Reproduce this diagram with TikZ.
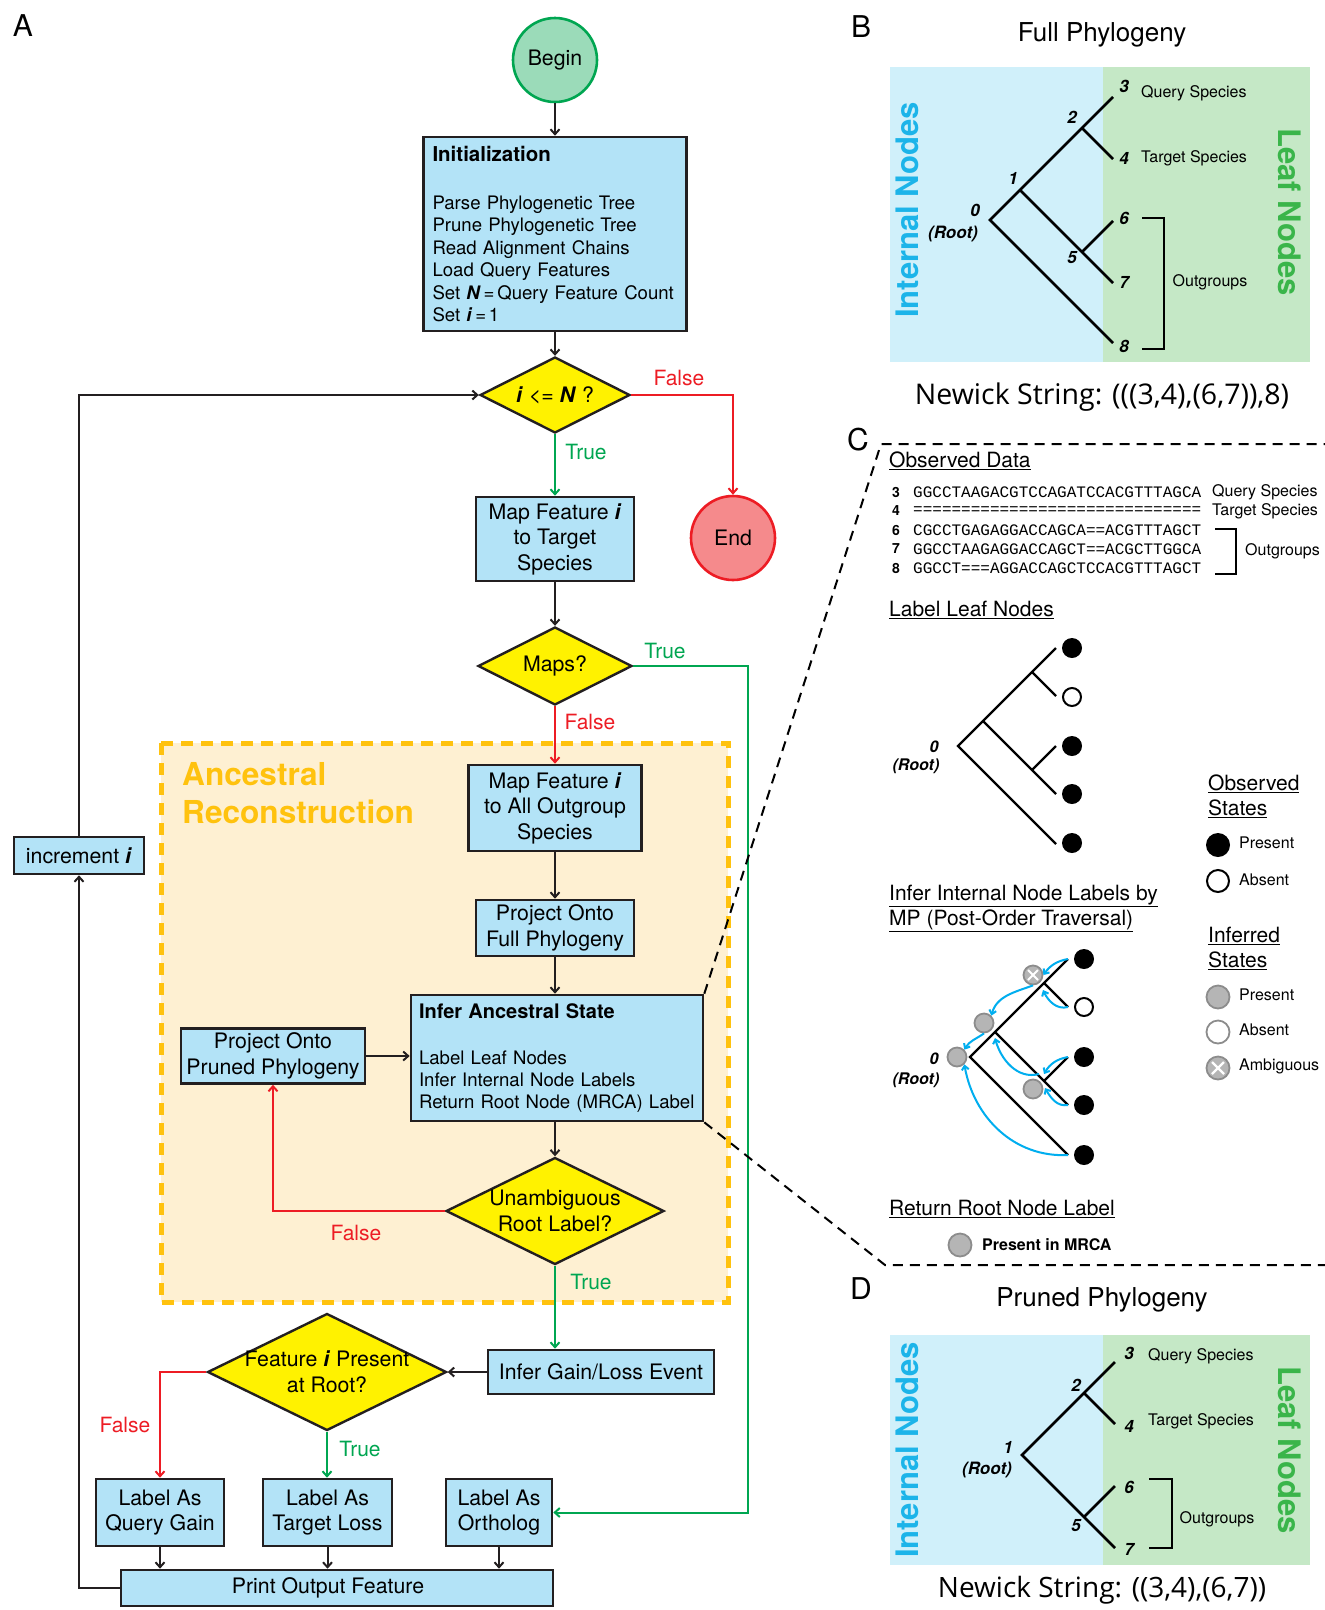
\documentclass[tikz,border=0pt]{standalone}
\usepackage{fontspec}
\setmainfont{TeX Gyre Heros}
\setmonofont{Liberation Mono}
\newfontfamily\newickfont{Open Sans}
\usetikzlibrary{shapes.geometric,arrows.meta,calc}
\newcommand{\fsz}[2]{\fontsize{#1}{#2}\selectfont}
\newcommand{\bi}[1]{\textbf{\textit{#1}}}
\definecolor{boxfill}{HTML}{B3E3F7}
\definecolor{boxline}{HTML}{231F20}
\definecolor{dyel}{HTML}{FFF200}
\definecolor{begfill}{HTML}{9BDBB9}
\definecolor{begline}{HTML}{00A651}
\definecolor{endfill}{HTML}{F58A8C}
\definecolor{endline}{HTML}{ED1C24}
\definecolor{fred}{HTML}{ED1C24}
\definecolor{fgreen}{HTML}{00A651}
\definecolor{regfill}{HTML}{FEF0D2}
\definecolor{regline}{HTML}{FFC20E}
\definecolor{pblue}{HTML}{D0F0FA}
\definecolor{pgreen}{HTML}{C5E8C6}
\definecolor{intc}{HTML}{1CB4E9}
\definecolor{leafc}{HTML}{3AB54A}
\definecolor{cyc}{HTML}{00AEEF}
\definecolor{gfill}{HTML}{B5B5B5}
\definecolor{gline}{HTML}{8C8C8C}
\begin{document}
\begin{tikzpicture}[x=1pt,y=-1pt,
  box/.style={draw=boxline, fill=boxfill, line width=2.6pt, inner sep=0pt, align=center, font=\fsz{21.3}{25.5}},
  dia/.style={diamond, draw=boxline, fill=dyel, line width=2.4pt, inner sep=0pt},
  txt/.style={inner sep=0pt, align=center, font=\fsz{21.3}{25.5}},
  arr/.style={draw=boxline, line width=2pt, -{Straight Barb[length=5pt,width=9pt]}},
  rarr/.style={arr, draw=fred},
  garr/.style={arr, draw=fgreen},
  flab/.style={inner sep=0pt, font=\fsz{21}{25}, text=fred},
  tlab/.style={inner sep=0pt, font=\fsz{21}{25}, text=fgreen},
  panel/.style={inner sep=0pt, font=\fsz{30}{32}},
  num/.style={inner sep=0pt, font=\fsz{17}{20}\bfseries\itshape},
  numc/.style={inner sep=0pt, font=\fsz{16}{19}\bfseries\itshape},
  spl/.style={inner sep=0pt, font=\fsz{16}{19}},
  head/.style={inner sep=0pt, font=\fsz{21}{25}, align=left},
  big/.style={inner sep=0pt, font=\fsz{31}{31}\bfseries},
  on/.style={circle, fill=black, minimum size=20, inner sep=0pt},
  off/.style={circle, draw=black, fill=white, line width=2pt, minimum size=18, inner sep=0pt},
  gon/.style={circle, fill=gfill, draw=gline, line width=1.8pt, minimum size=19, inner sep=0pt},
  goff/.style={circle, fill=white, draw=gline, line width=1.8pt, minimum size=19, inner sep=0pt},
  cy/.style={draw=cyc, line width=2pt, -{Straight Barb[length=4pt,width=7pt]}},
  callout/.style={draw=black, line width=2pt, dash pattern=on 10pt off 7pt}
]
\useasboundingbox (0,0) rectangle (1325,1610);
\fill[white] (0,0) rectangle (1325,1610);

% ---------- Panel letters
\node[panel] (pA) at (23,26) {A};
\node[panel] (pB) at (861,27) {B};
\node[panel] (pC) at (858,440) {C};
\node[panel] (pD) at (861,1289) {D};

% ---------- Ancestral region
\draw[fill=regfill, draw=regline, line width=5pt, dash pattern=on 12pt off 8pt] (161,743) rectangle (728,1302);
\node[anchor=west, align=left, inner sep=0pt, font=\fsz{31.6}{38}\bfseries, text=regline] (anc) at (182,793) {Ancestral\\Reconstruction};

% ---------- Flowchart nodes
\node[circle, draw=begline, fill=begfill, line width=2.6pt, minimum size=84, inner sep=0pt, font=\fsz{21.3}{25}] (begin) at (555,60) {\raisebox{-2pt}{Begin}};
\node[box, minimum width=263, minimum height=194, text width=245, align=left, font=\fsz{18.6}{22.5}] (init) at (555,234)
  {{\fsz{20.5}{22.5}\bfseries Initialization}\\[25.5pt]
   Parse Phylogenetic Tree\\ Prune Phylogenetic Tree\\ Read Alignment Chains\\ Load Query Features\\
   \mbox{Set \bi{N}\hspace{0.15em}=\hspace{0.15em}Query Feature Count}\\ Set \bi{i}\hspace{0.15em}=\hspace{0.15em}1};
\node[dia, minimum width=150, minimum height=76] (d1) at (555,395) {};
\node[txt] (d1t) at (d1) {\bi{i} <= \bi{N} ?};
\node[circle, draw=endline, fill=endfill, line width=2.6pt, minimum size=84, inner sep=0pt, font=\fsz{21.3}{25}] (stop) at (733,538) {End};
\node[box, minimum width=158, minimum height=84] (mt) at (555,539) {Map Feature \bi{i}\\to Target\\Species};
\node[dia, minimum width=154, minimum height=78] (d2) at (555,666) {};
\node[txt] (d2t) at (d2) {Maps?};
\coordinate (mapsTR) at (748,666);
\node[box, minimum width=173, minimum height=86] (mo) at (555,808) {Map Feature \bi{i}\\to All Outgroup\\Species};
\node[box, minimum width=158, minimum height=56] (pf) at (555,928) {Project Onto\\Full Phylogeny};
\node[box, minimum width=292, minimum height=126, text width=276, align=left, font=\fsz{18.6}{22}] (inf) at (557,1058)
  {{\fsz{20}{22}\bfseries Infer Ancestral State}\\[24pt]
   Label Leaf Nodes\\ Infer Internal Node Labels\\ Return Root Node (MRCA) Label};
\node[box, minimum width=184, minimum height=55] (pp) at (273,1056) {Project Onto\\Pruned Phylogeny};
\node[dia, minimum width=218, minimum height=107] (d3) at (555,1211) {};
\node[txt] (d3t) at (d3) {Unambiguous\\Root Label?};
\node[box, minimum width=226, minimum height=44] (gl) at (601,1372) {Infer Gain/Loss Event};
\node[dia, minimum width=239, minimum height=117] (d4) at (327,1372) {};
\node[txt] (d4t) at (d4) {Feature \bi{i} Present\\at Root?};
\node[box, minimum width=128, minimum height=67] (qg) at (160,1512.5) {Label As\\Query Gain};
\node[box, minimum width=129, minimum height=67] (tl) at (327.5,1512.5) {Label As\\Target Loss};
\node[box, minimum width=106, minimum height=67] (orth) at (499,1512.5) {Label As\\Ortholog};
\node[box, minimum width=432, minimum height=36] (pr) at (337,1588) {Print Output Feature\hspace*{18pt}};
\node[box, minimum width=130, minimum height=37] (inc) at (79,855.5) {increment \bi{i}};

% ---------- Flowchart connectors
\draw[arr] (begin) -- (init);
\draw[arr] (init) -- (d1);
\draw[rarr] (d1.east) -| (stop.north);
\draw[garr] (d1) -- (mt);
\draw[arr] (mt) -- (d2);
\draw[garr] (d2.east) -- (mapsTR) |- (orth.east);
\draw[rarr] (d2) -- (mo);
\draw[arr] (mo) -- (pf);
\draw[arr] (pf.south) -- (pf.south |- inf.north);
\draw[arr] (pp.east) -- (pp.east -| inf.west);
\draw[arr] (d3.north |- inf.south) -- (d3.north);
\draw[rarr] (d3.west) -| (pp.south);
\draw[garr] (d3.south) -- (d3.south |- gl.north);
\draw[arr] (gl.west) -- (d4.east);
\draw[rarr] (d4.west) -| (qg.north);
\draw[garr] (d4.south) -- (d4.south |- tl.north);
\draw[arr] (qg.south) -- (qg.south |- pr.north);
\draw[arr] (tl.south) -- (tl.south |- pr.north);
\draw[arr] (orth.south) -- (orth.south |- pr.north);
\draw[arr] (pr.west) -| (inc.south);
\draw[arr] (inc.north) |- (d1.west);

% ---------- Connector labels
\node[flab] (lf1) at (679,378) {False};
\node[tlab] (lt1) at (586,452) {True};
\node[tlab] (lt2) at (665,651) {True};
\node[flab] (lf2) at (590,722) {False};
\node[flab] (lf3) at (356,1233) {False};
\node[tlab] (lt3) at (591,1282) {True};
\node[flab] (lf4) at (125,1425) {False};
\node[tlab] (lt4) at (360,1449) {True};

% ---------- Callout
\coordinate (ctl) at (881,444);
\coordinate (ctr) at (1325,444);
\coordinate (cbl) at (885,1265);
\coordinate (cbr) at (1325,1265);
\draw[callout] (inf.north east) -- (ctl) -- (ctr);
\draw[callout] (inf.south east) -- (cbl) -- (cbr);

% ---------- Panel B
\fill[pblue] (890,67) rectangle (1103,362);
\fill[pgreen] (1103,67) rectangle (1310,362);
\node[inner sep=0pt, font=\fsz{26}{30}] (titB) at (1102,35) {Full Phylogeny};
\node[big, rotate=90, text=intc] (intB) at (907,210) {Internal Nodes};
\node[big, rotate=-90, text=leafc] (leafB) at (1290,212) {Leaf Nodes};
\coordinate (b0) at (990,220);
\coordinate (b1) at (1020,190);
\coordinate (b2) at (1082,128);
\coordinate (b3) at (1113,97);
\coordinate (b4) at (1113,159);
\coordinate (b5) at (1082,252);
\coordinate (b6) at (1113,221);
\coordinate (b7) at (1113,283);
\coordinate (b8) at (1113,343);
\draw[line width=2.6pt] (b3) -- (b0) -- (b8);
\draw[line width=2.6pt] (b1) -- (b7);
\draw[line width=2.6pt] (b2) -- (b4);
\draw[line width=2.6pt] (b5) -- (b6);
\node[num] (bn3) at (1124,86) {3};
\node[num] (bn4) at (1124,158) {4};
\node[num] (bn6) at (1124,218) {6};
\node[num] (bn7) at (1124,282) {7};
\node[num] (bn8) at (1124,346) {8};
\node[num] (bn2) at (1072,117) {2};
\node[num] (bn1) at (1013,178) {1};
\node[num] (bn0) at (975,210) {0};
\node[num] (bnr) at (953,234) {(Root)};
\node[num] (bn5) at (1072,258) {5};
\node[spl, anchor=west] (bq) at (1141,93) {Query Species};
\node[spl, anchor=west] (bt) at (1141,158) {Target Species};
\draw[line width=2.4pt] (1142,218) -- (1164,218) -- (1164,349) -- (1142,349);
\node[spl] (bo) at (1210,282) {Outgroups};
\node[inner sep=0pt, font=\newickfont\fsz{28.5}{32}] (nwB) at (1102,397) {Newick String: (((3,4),(6,7)),8)};

% ---------- Panel C
\node[head, anchor=west] (hObs) at (889,461) {\underline{Observed Data}};
\foreach \n/\s/\y in {3/GGCCTAAGACGTCCAGATCCACGTTTAGCA/492,
                      4/==============================/511,
                      6/CGCCTGAGAGGACCAGCA==ACGTTTAGCT/530,
                      7/GGCCTAAGAGGACCAGCT==ACGCTTGGCA/549,
                      8/GGCCT===AGGACCAGCTCCACGTTTAGCT/568}{
  \node[inner sep=0pt, font=\fsz{14}{16}\bfseries] (sn\n) at (896,\y) {\n};
  \node[inner sep=0pt, anchor=west, font=\ttfamily\fsz{16}{18}] (sq\n) at (913,\y) {\s};
}
\node[spl, anchor=west] (cq) at (1212,492) {Query Species};
\node[spl, anchor=west] (ct) at (1212,511) {Target Species};
\draw[line width=2pt] (1215,529) -- (1236,529) -- (1236,574) -- (1215,574);
\node[spl, anchor=west] (co) at (1245,551) {Outgroups};

\node[head, anchor=west] (hLeaf) at (889,610) {\underline{Label Leaf Nodes}};
\coordinate (c0) at (958,746);
\coordinate (c1) at (983,721);
\coordinate (c2) at (1032,672);
\coordinate (c3) at (1056,648);
\coordinate (c4) at (1056,696);
\coordinate (c5) at (1032,770);
\coordinate (c6) at (1056,746);
\coordinate (c7) at (1056,794);
\coordinate (c8) at (1056,844);
\draw[line width=2.2pt] (c3) -- (c0) -- (c8);
\draw[line width=2.2pt] (c1) -- (c7);
\draw[line width=2.2pt] (c2) -- (c4);
\draw[line width=2.2pt] (c5) -- (c6);
\node[on] (cl3) at (1072,648) {};
\node[off] (cl4) at (1072,697) {};
\node[on] (cl6) at (1072,746) {};
\node[on] (cl7) at (1072,794) {};
\node[on] (cl8) at (1072,843) {};
\node[numc] (cr0) at (934,747) {0};
\node[numc] (crr) at (916,766) {(Root)};

\node[head, anchor=west] (hObsSt) at (1208,796) {\underline{Observed}\\\underline{States}};
\node[on, minimum size=24] (lgOn) at (1218,845) {};
\node[spl, anchor=west] (lgOnT) at (1239,843) {Present};
\node[off, minimum size=22] (lgOff) at (1218,881) {};
\node[spl, anchor=west] (lgOffT) at (1239,880) {Absent};

\node[head, anchor=west] (hInf) at (889,908.5) {\underline{Infer Internal Node Labels by}\\\underline{MP (Post-Order Traversal)}};
\coordinate (e0) at (970,1057);
\coordinate (e1) at (995,1032);
\coordinate (e2) at (1044,983);
\coordinate (e3) at (1068,959);
\coordinate (e4) at (1068,1007);
\coordinate (e5) at (1044,1081);
\coordinate (e6) at (1068,1057);
\coordinate (e7) at (1068,1105);
\coordinate (e8) at (1068,1155);
\draw[line width=2.2pt] (e3) -- (e0) -- (e8);
\draw[line width=2.2pt] (e1) -- (e7);
\draw[line width=2.2pt] (e2) -- (e4);
\draw[line width=2.2pt] (e5) -- (e6);
\node[on] (el3) at (1084,959) {};
\node[off] (el4) at (1084,1007) {};
\node[on] (el6) at (1084,1057) {};
\node[on] (el7) at (1084,1105) {};
\node[on] (el8) at (1084,1155) {};
\node[gon] (g2) at (1033,975) {};
\draw[white, line width=2pt] ($(g2)+(-5,-5)$) -- ($(g2)+(5,5)$);
\draw[white, line width=2pt] ($(g2)+(-5,5)$) -- ($(g2)+(5,-5)$);
\node[gon] (g1) at (984,1023) {};
\node[gon] (g0) at (957,1057) {};
\node[gon] (g5) at (1033,1089) {};
\node[numc] (er0) at (934,1059) {0};
\node[numc] (err) at (916,1080) {(Root)};
\draw[cy] (e3) to[out=190,in=55] (g2.east);
\draw[cy] (e4) to[out=195,in=-65] ($(e2)+(-1,7)$);
\draw[cy] (g2.south) to[out=200,in=75] (g1.north east);
\draw[cy] ($(e5)+(-5,-7)$) to[out=195,in=-75] ($(e1)+(0,6)$);
\draw[cy] (g1.south) to[out=215,in=60] (g0.north east);
\draw[cy] (e6) to[out=190,in=60] ($(e5)+(0,-7)$);
\draw[cy] (e7) to[out=190,in=-60] ($(e5)+(1,7)$);
\draw[cy] (e8) to[out=183,in=-80] (g0.south east);

\node[head, anchor=west] (hInfSt) at (1208,948.5) {\underline{Inferred}\\\underline{States}};
\node[gon, minimum size=23] (lgG) at (1218,997) {};
\node[spl, anchor=west] (lgGT) at (1239,995) {Present};
\node[goff, minimum size=23] (lgW) at (1218,1032) {};
\node[spl, anchor=west] (lgWT) at (1239,1030) {Absent};
\node[gon, minimum size=23] (lgA) at (1218,1068) {};
\draw[white, line width=2.2pt] ($(lgA)+(-6,-6)$) -- ($(lgA)+(6,6)$);
\draw[white, line width=2.2pt] ($(lgA)+(-6,6)$) -- ($(lgA)+(6,-6)$);
\node[spl, anchor=west] (lgAT) at (1239,1066) {Ambiguous};

\node[head, anchor=west] (hRet) at (889,1209) {\underline{Return Root Node Label}};
\node[gon, minimum size=23] (mrca) at (960,1245) {};
\node[spl, anchor=west, font=\fsz{16}{19}\bfseries] (mrcaT) at (982,1245) {Present in MRCA};

% ---------- Panel D
\fill[pblue] (890,1335) rectangle (1103,1565);
\fill[pgreen] (1103,1335) rectangle (1310,1565);
\node[inner sep=0pt, font=\fsz{26}{30}] (titD) at (1102,1300) {Pruned Phylogeny};
\node[big, rotate=90, text=intc] (intD) at (907,1450) {Internal Nodes};
\node[big, rotate=-90, text=leafc] (leafD) at (1290,1450) {Leaf Nodes};
\coordinate (d1c) at (1022,1455);
\coordinate (d2c) at (1084,1393);
\coordinate (d3c) at (1115,1362);
\coordinate (d4c) at (1115,1424);
\coordinate (d5c) at (1084,1517);
\coordinate (d6c) at (1115,1486);
\coordinate (d7c) at (1115,1548);
\draw[line width=2.6pt] (d3c) -- (d1c) -- (d7c);
\draw[line width=2.6pt] (d2c) -- (d4c);
\draw[line width=2.6pt] (d5c) -- (d6c);
\node[num] (dn3) at (1129,1353) {3};
\node[num] (dn4) at (1129,1426) {4};
\node[num] (dn2) at (1076,1385) {2};
\node[num] (dn1) at (1008,1447) {1};
\node[num] (dnr) at (987,1470) {(Root)};
\node[num] (dn6) at (1129,1487) {6};
\node[num] (dn5) at (1076,1526) {5};
\node[num] (dn7) at (1129,1549) {7};
\node[spl, anchor=west] (dq) at (1148,1356) {Query Species};
\node[spl, anchor=west] (dt) at (1148,1421) {Target Species};
\draw[line width=2.4pt] (1149,1479) -- (1172,1479) -- (1172,1548) -- (1149,1548);
\node[spl] (do) at (1217,1519) {Outgroups};
\node[inner sep=0pt, font=\newickfont\fsz{28}{32}] (nwD) at (1102,1590) {Newick String: ((3,4),(6,7))};
\end{tikzpicture}
\end{document}
